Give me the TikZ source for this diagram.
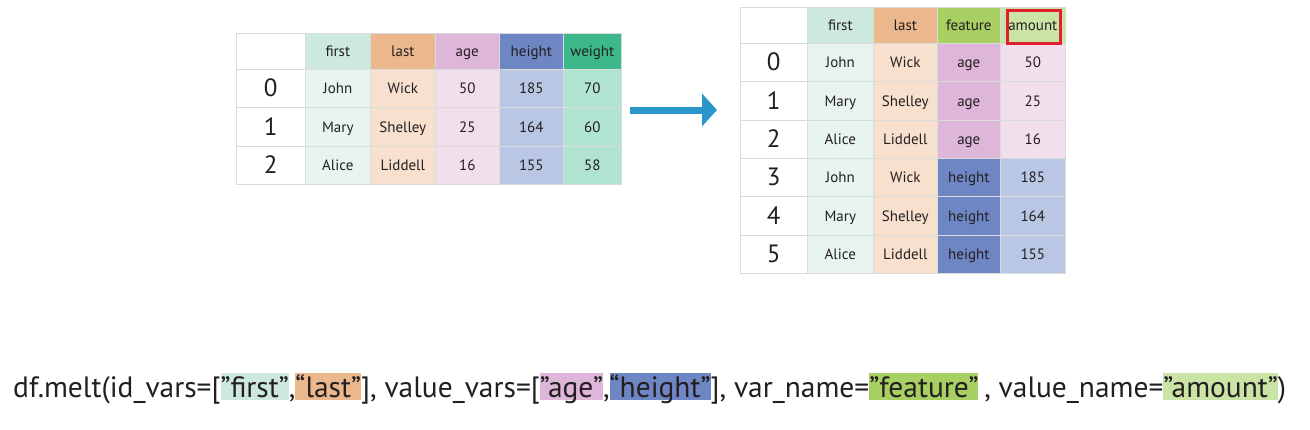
\documentclass[tikz,border=0pt]{standalone}
\usepackage{fontspec}
\setmainfont{PT Sans}
\usepackage{graphicx}
\usepackage{tikz}
\usetikzlibrary{arrows.meta}

\definecolor{firsthd}{HTML}{CDE8DC}
\definecolor{firstbg}{HTML}{E7F4EF}
\definecolor{lasthd}{HTML}{EBB88E}
\definecolor{lastbg}{HTML}{F7E0CD}
\definecolor{agehd}{HTML}{DEB6D9}
\definecolor{agebg}{HTML}{F2DFEC}
\definecolor{heighthd}{HTML}{6F86C4}
\definecolor{heightbg}{HTML}{B9C6E4}
\definecolor{weighthd}{HTML}{3DB88A}
\definecolor{weightbg}{HTML}{B1E4D0}
\definecolor{featurehd}{HTML}{A7CF62}
\definecolor{amounthd}{HTML}{CAE4A6}
\definecolor{gridline}{HTML}{D9DCDB}
\definecolor{arrowblue}{HTML}{2B96CC}
\definecolor{markred}{HTML}{E0202E}
\definecolor{inktext}{HTML}{231F20}

\newcommand\hlword[2]{\begingroup\sbox0{#2}\rlap{\textcolor{#1}{\rule[-0.1em]{\wd0}{0.92em}}}\usebox0\endgroup}

\begin{document}
\begin{tikzpicture}[x=1pt, y=-1pt,
  cell/.style={draw=gridline, line width=0.6pt, anchor=north west, inner sep=0pt,
    text=inktext, font=\fontsize{15}{17}\selectfont, text height=10.5pt, text depth=0pt},
  idx/.style={cell, fill=white, font=\fontsize{25}{28}\selectfont, text height=17pt},
  flowarrow/.style={arrowblue, line width=7pt, -{Triangle[length=15pt, width=32pt]}},
  markbox/.style={draw=markred, line width=3pt, anchor=north west, inner sep=0pt}]
\useasboundingbox (0,0) rectangle (1310,429);

% left table
\node [idx, minimum width=69, minimum height=36] (L0-0) at (236,33) {};
\foreach \i [count=\r] in {0,1,2}
  \node [idx, minimum width=69, minimum height=38.33] (L\r-0) at (236,{69+(\r-1)*38.33}) {\i};
\foreach \xa/\xb/\hc/\bc/\hd/\va/\vb/\vc [count=\c] in {
  305/370/firsthd/firstbg/first/John/Mary/Alice,
  370/435/lasthd/lastbg/last/Wick/Shelley/Liddell,
  435/499/agehd/agebg/age/50/25/16,
  499/563/heighthd/heightbg/height/185/164/155,
  563/621/weighthd/weightbg/weight/70/60/58}
{
  \node [cell, fill=\hc, minimum width=\xb-\xa, minimum height=36] (L0-\c) at (\xa,33) {\hd};
  \node [cell, fill=\bc, minimum width=\xb-\xa, minimum height=38.33] (L1-\c) at (\xa,69) {\va};
  \node [cell, fill=\bc, minimum width=\xb-\xa, minimum height=38.33] (L2-\c) at (\xa,107.33) {\vb};
  \node [cell, fill=\bc, minimum width=\xb-\xa, minimum height=38.33] (L3-\c) at (\xa,145.67) {\vc};
}

% arrow
\coordinate (arrS) at (630,110);
\coordinate (arrE) at (717,110);
\draw [flowarrow] (arrS) -- (arrE);

% right table
\node [idx, minimum width=67, minimum height=36] (R0-0) at (740,7) {};
\foreach \xa/\xb/\hc/\hd [count=\c] in {
  807/873/firsthd/first, 873/937/lasthd/last,
  937/1000/featurehd/feature, 1000/1065/amounthd/amount}
  \node [cell, fill=\hc, minimum width=\xb-\xa, minimum height=36] (R0-\c) at (\xa,7) {\hd};
\foreach \fn/\ln/\ft/\fc/\am/\ac [count=\r] in {
  John/Wick/age/agehd/50/agebg, Mary/Shelley/age/agehd/25/agebg,
  Alice/Liddell/age/agehd/16/agebg, John/Wick/height/heighthd/185/heightbg,
  Mary/Shelley/height/heighthd/164/heightbg, Alice/Liddell/height/heighthd/155/heightbg}
{
  \pgfmathsetmacro\ytop{43+(\r-1)*38.33}
  \pgfmathtruncatemacro\i{\r-1}
  \node [idx, minimum width=67, minimum height=38.33] (R\r-0) at (740,\ytop) {\i};
  \node [cell, fill=firstbg, minimum width=66, minimum height=38.33] (R\r-1) at (807,\ytop) {\fn};
  \node [cell, fill=lastbg, minimum width=64, minimum height=38.33] (R\r-2) at (873,\ytop) {\ln};
  \node [cell, fill=\fc, minimum width=63, minimum height=38.33] (R\r-3) at (937,\ytop) {\ft};
  \node [cell, fill=\ac, minimum width=65, minimum height=38.33] (R\r-4) at (1000,\ytop) {\am};
}
\node [markbox, minimum width=53, minimum height=33] (mark) at (1005.5,8.5) {};

% melt call
\node [anchor=base west, inner sep=0pt, text=inktext] (code) at (13,397) {\resizebox{1273pt}{!}{\fontsize{28}{32}\selectfont
  df.melt(id\_vars=[\hlword{firsthd}{”first”},\hlword{lasthd}{“last”}], value\_vars=[\hlword{agehd}{”age”},\hlword{heighthd}{“height”}], var\_name=\hlword{featurehd}{”feature”}\kern-2pt{} , value\_name=\hlword{amounthd}{”amount”})}};
\end{tikzpicture}
\end{document}
